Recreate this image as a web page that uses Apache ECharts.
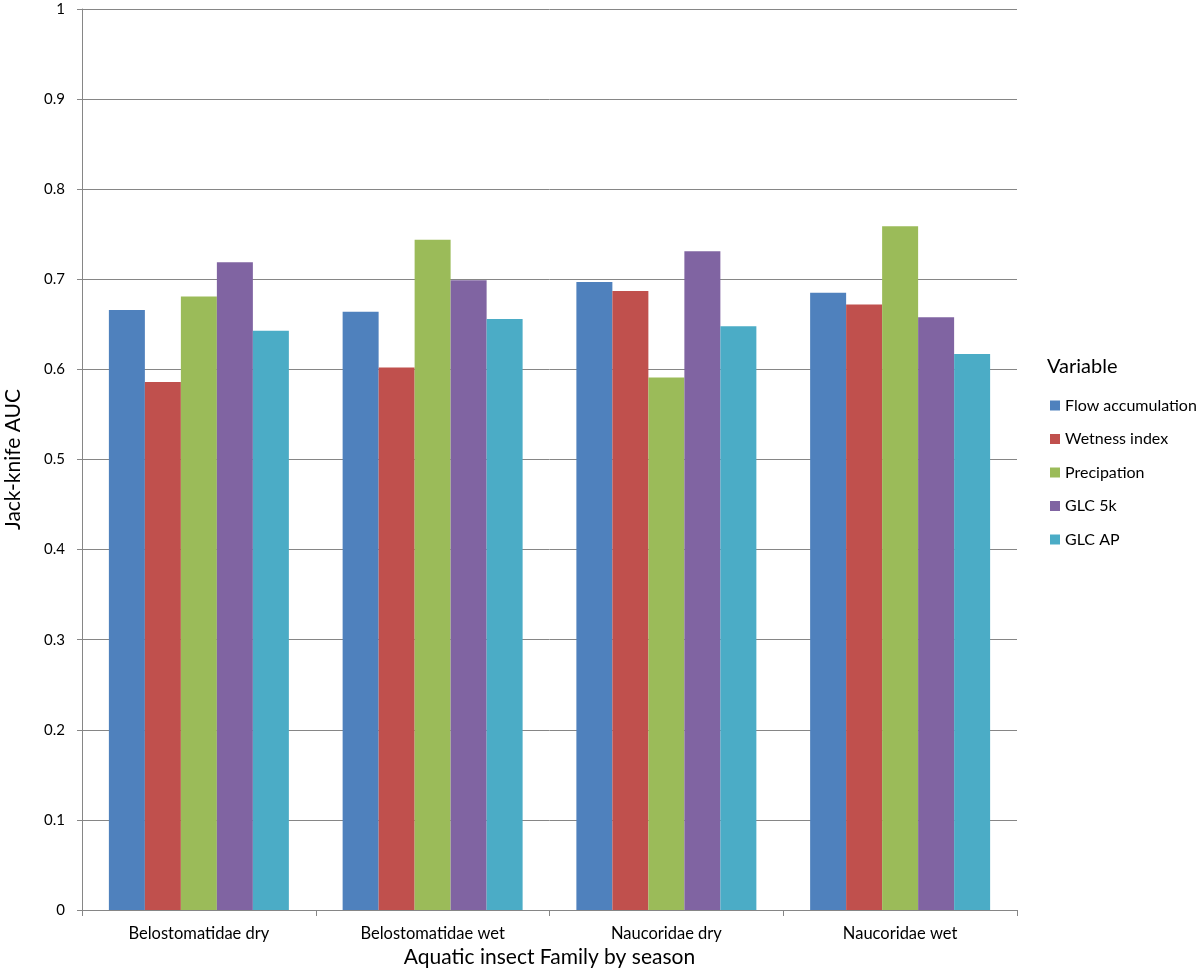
<!DOCTYPE html>
<html>
<head>
<meta charset="utf-8">
<script src="https://cdn.jsdelivr.net/npm/echarts@6/dist/echarts.min.js"></script>
<style>
html,body{margin:0;padding:0;background:#fff;}
#chart{width:1200px;height:971px;}
</style>
</head>
<body>
<div id="chart"></div>
<script>
const categories = ['Belostomatidae dry', 'Belostomatidae wet', 'Naucoridae dry', 'Naucoridae wet'];
const flowAccumulation = [0.666, 0.664, 0.697, 0.685];
const wetnessIndex = [0.586, 0.602, 0.687, 0.672];
const precipation = [0.681, 0.744, 0.591, 0.759];
const glc5k = [0.719, 0.699, 0.731, 0.658];
const glcAP = [0.643, 0.656, 0.648, 0.617];
const seriesNames = ['Flow accumulation', 'Wetness index', 'Precipation', 'GLC 5k', 'GLC AP'];
const seriesValues = [flowAccumulation, wetnessIndex, precipation, glc5k, glcAP];
const colors = ['#4F81BD', '#C0504D', '#9BBB59', '#8064A2', '#4BACC6'];

const FONT = 'Lato';
const axisGray = '#868686';

const chart = echarts.init(document.getElementById('chart'), null, {renderer: 'canvas'});
chart.setOption({
  animation: false,
  color: colors,
  textStyle: {fontFamily: FONT, color: '#000'},
  title: {
    text: 'Variable',
    left: 1042,
    top: 352,
    textStyle: {fontFamily: FONT, fontSize: 20, fontWeight: 'normal', color: '#000'}
  },
  legend: {
    orient: 'vertical',
    left: 1045,
    top: 392,
    icon: 'rect',
    itemWidth: 10,
    itemHeight: 10,
    itemGap: 16.5,
    data: seriesNames,
    textStyle: {fontFamily: FONT, fontSize: 16, color: '#000', lineHeight: 17}
  },
  grid: {left: 82, right: 183, top: 9, bottom: 61, containLabel: false, outerBoundsMode: 'none'},
  xAxis: {
    type: 'category',
    data: categories,
    name: 'Aquatic insect Family by season',
    nameLocation: 'middle',
    nameGap: 36,
    nameTextStyle: {fontFamily: FONT, fontSize: 21, color: '#000'},
    axisLine: {show: true, lineStyle: {color: axisGray, width: 1}},
    axisTick: {show: true, length: 6, lineStyle: {color: axisGray}},
    axisLabel: {fontFamily: FONT, fontSize: 16.5, color: '#000', margin: 15},
    splitLine: {show: false}
  },
  yAxis: {
    type: 'value',
    min: 0,
    max: 1,
    interval: 0.1,
    name: 'Jack-knife AUC',
    nameLocation: 'middle',
    nameGap: 58,
    nameRotate: 90,
    nameTextStyle: {fontFamily: FONT, fontSize: 21, color: '#000'},
    axisLine: {show: true, lineStyle: {color: axisGray, width: 1}},
    axisTick: {show: true, length: 5, lineStyle: {color: axisGray}},
    axisLabel: {fontFamily: FONT, fontSize: 15, color: '#000', margin: 17,
      formatter: v => (Math.round(v * 10) / 10).toString()},
    splitLine: {show: true, lineStyle: {color: axisGray, width: 1}}
  },
  series: seriesNames.map((name, i) => ({
    name: name,
    type: 'bar',
    data: seriesValues[i],
    barGap: '0%',
    barCategoryGap: '23%',
    itemStyle: {color: colors[i]}
  }))
});
</script>
</body>
</html>
